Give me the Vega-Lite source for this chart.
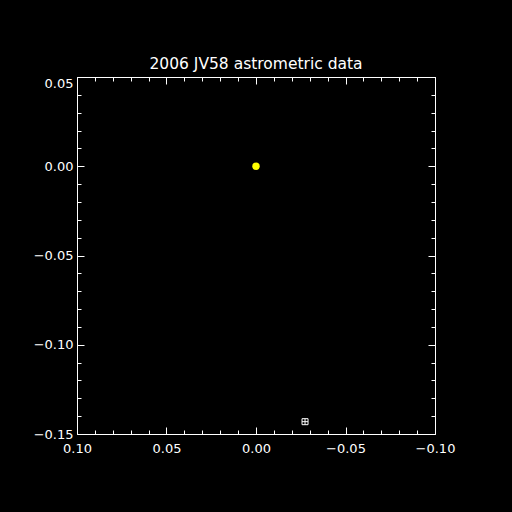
{
  "$schema": "https://vega.github.io/schema/vega-lite/v6.json",
  "width": 358,
  "height": 357,
  "autosize": {"type": "none"},
  "padding": {"left": 77, "top": 77, "right": 77, "bottom": 78},
  "background": "black",
  "title": {"text": "2006 JV58 astrometric data", "color": "white", "font": "DejaVu Sans", "fontSize": 15.5, "fontWeight": "normal", "offset": 4, "anchor": "middle"},
  "config": {
    "view": {"stroke": null},
    "axis": {"grid": false, "domainColor": "white", "tickColor": "white", "labelColor": "white", "labelFont": "DejaVu Sans", "labelFontSize": 13, "title": null, "domainWidth": 1, "tickWidth": 1}
  },
  "data": {"values": [
    {"x": 0.0, "y": 0.0, "kind": "sun"},
    {"x": -0.0274, "y": -0.1431, "kind": "obs"}
  ]},
  "resolve": {"axis": {"x": "independent", "y": "independent"}},
  "layer": [
    {
      "transform": [{"filter": "datum.kind === 'sun'"}],
      "mark": {"type": "point", "shape": "circle", "filled": true, "color": "yellow", "size": 55, "opacity": 1},
      "encoding": {
        "x": {"field": "x", "type": "quantitative", "scale": {"domain": [-0.1, 0.1], "reverse": true, "nice": false, "zero": false},
          "axis": {"orient": "bottom", "values": [0.1, 0.05, 0, -0.05, -0.1], "format": ".2f", "tickSize": -7, "labelPadding": 15, "labelFlush": false, "labelOverlap": false}},
        "y": {"field": "y", "type": "quantitative", "scale": {"domain": [-0.15, 0.05], "nice": false, "zero": false},
          "axis": {"orient": "left", "values": [-0.15, -0.1, -0.05, 0, 0.05], "format": ".2f", "tickSize": -7, "labelPadding": 11, "labelFlush": false, "labelOverlap": false,
            "labelBaseline": {"expr": "datum.value > 0.04 ? 'top' : 'middle'"}}}
      }
    },
    {
      "transform": [{"filter": "datum.kind === 'obs'"}],
      "mark": {"type": "point", "shape": "M-1,-1H1V1H-1ZM-1,0H1M0,-1V1", "filled": false, "stroke": "white", "strokeWidth": 1, "size": 36, "opacity": 1},
      "encoding": {
        "x": {"field": "x", "type": "quantitative",
          "axis": {"orient": "top", "values": [0.1, 0.05, 0, -0.05, -0.1], "labels": false, "tickSize": -7}},
        "y": {"field": "y", "type": "quantitative",
          "axis": {"orient": "right", "values": [-0.15, -0.1, -0.05, 0, 0.05], "labels": false, "tickSize": -7}}
      }
    },
    {
      "mark": {"type": "point", "opacity": 0},
      "encoding": {
        "x": {"field": "x", "type": "quantitative",
          "axis": {"orient": "bottom", "domain": false, "labels": false, "tickSize": -4, "values": [-0.1, -0.09, -0.08, -0.07, -0.06, -0.05, -0.04, -0.03, -0.02, -0.01, 0, 0.01, 0.02, 0.03, 0.04, 0.05, 0.06, 0.07, 0.08, 0.09, 0.1]}},
        "y": {"field": "y", "type": "quantitative",
          "axis": {"orient": "left", "domain": false, "labels": false, "tickSize": -4, "values": [-0.15, -0.14, -0.13, -0.12, -0.11, -0.1, -0.09, -0.08, -0.07, -0.06, -0.05, -0.04, -0.03, -0.02, -0.01, 0, 0.01, 0.02, 0.03, 0.04, 0.05]}}
      }
    },
    {
      "mark": {"type": "point", "opacity": 0},
      "encoding": {
        "x": {"field": "x", "type": "quantitative",
          "axis": {"orient": "top", "domain": false, "labels": false, "tickSize": -4, "values": [-0.1, -0.09, -0.08, -0.07, -0.06, -0.05, -0.04, -0.03, -0.02, -0.01, 0, 0.01, 0.02, 0.03, 0.04, 0.05, 0.06, 0.07, 0.08, 0.09, 0.1]}},
        "y": {"field": "y", "type": "quantitative",
          "axis": {"orient": "right", "domain": false, "labels": false, "tickSize": -4, "values": [-0.15, -0.14, -0.13, -0.12, -0.11, -0.1, -0.09, -0.08, -0.07, -0.06, -0.05, -0.04, -0.03, -0.02, -0.01, 0, 0.01, 0.02, 0.03, 0.04, 0.05]}}
      }
    }
  ]
}
